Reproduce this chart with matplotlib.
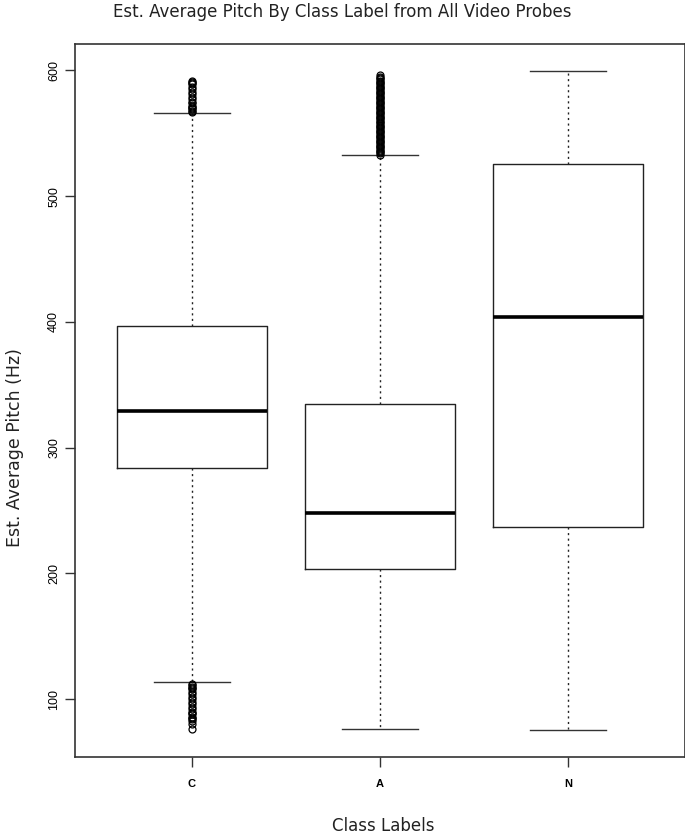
import matplotlib
matplotlib.use("Agg")
import matplotlib.pyplot as plt

# class labels and box statistics (Hz)
classes = ["C", "A", "N"]
whisker_low = [113.7, 76.0, 75.5]
q1 = [284.0, 203.2, 237.3]
median = [329.3, 248.4, 403.7]
q3 = [396.6, 334.8, 525.7]
whisker_high = [566.2, 532.5, 599.5]

# outliers
fliers_c = [567, 568, 569, 570, 571, 572, 574, 575, 577, 579, 581, 583, 585,
            587, 589, 590, 591, 592,
            112, 111, 110, 109, 108, 106, 104, 102, 100, 98, 96, 94, 92, 90,
            89, 88, 86, 85, 84, 83, 80, 76]
fliers_a = [533, 534, 535, 536, 537, 538, 539, 540, 541, 542, 543, 544, 545,
            546, 547, 548, 549, 550, 551, 552, 553, 554, 555, 556, 557, 558,
            559, 560, 561, 562, 563, 564, 565, 566, 567, 568, 569, 570, 571,
            572, 573, 574, 575, 576, 577, 578, 579, 580, 581, 582, 583, 584,
            585, 586, 587, 588, 589, 590, 591, 592, 593, 594, 595, 596]
fliers_n = []
fliers = [fliers_c, fliers_a, fliers_n]

stats = []
for i in range(len(classes)):
    stats.append({"label": classes[i], "whislo": whisker_low[i], "q1": q1[i],
                  "med": median[i], "q3": q3[i], "whishi": whisker_high[i],
                  "fliers": fliers[i]})

fig = plt.figure(figsize=(6.85, 8.34), dpi=100)
ax = fig.add_axes([0.110, 0.0923, 0.8894, 0.8549])

ax.bxp(stats, positions=[1, 2, 3], widths=0.8, showfliers=True,
       boxprops=dict(color="#222222", linewidth=1.0),
       medianprops=dict(color="black", linewidth=2.6, solid_capstyle="butt"),
       whiskerprops=dict(color="#222222", linewidth=1.0, linestyle=(0, (1.5, 2.5))),
       capprops=dict(color="#333333", linewidth=1.0),
       capwidths=0.4,
       flierprops=dict(marker="o", markersize=5, markerfacecolor="none",
                       markeredgecolor="black", markeredgewidth=0.9))

ax.set_xlim(0.38, 3.62)
ax.set_ylim(54, 621)
ax.set_yticks([100, 200, 300, 400, 500, 600])
ax.set_yticklabels(["100", "200", "300", "400", "500", "600"], rotation=90,
                   va="center", family="Liberation Sans", fontsize=9)
ax.set_xticks([1, 2, 3])
ax.set_xticklabels(classes, family="Liberation Sans", fontsize=8,
                   fontweight="bold")
ax.tick_params(axis="y", length=7, width=1, pad=4, color="#333333")
ax.tick_params(axis="x", length=7, width=1, pad=9, color="#333333")
for s in ax.spines.values():
    s.set_color("#333333")
    s.set_linewidth(1.2)

txt = "#222222"
fig.text(0.5, 1 - 12 / 834, "Est. Average Pitch By Class Label from All Video Probes",
         ha="center", va="center", fontsize=12, family="DejaVu Sans", color=txt)
fig.text(15 / 685, 1 - 448 / 834, "Est. Average Pitch (Hz)", rotation=90,
         ha="center", va="center", fontsize=12.5, family="DejaVu Sans", color=txt)
fig.text(383 / 685, 1 - 826 / 834, "Class Labels", ha="center", va="center",
         fontsize=12, family="DejaVu Sans", color=txt)

fig.savefig("out.png", dpi=100)
